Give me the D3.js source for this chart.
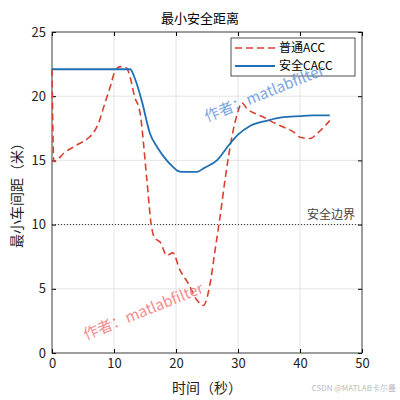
<!DOCTYPE html><html><head><meta charset="utf-8"><script src="https://cdn.jsdelivr.net/npm/d3@7"></script>
<style>body{margin:0;background:#fff}text{font-family:"Noto Sans CJK SC","Noto Sans",sans-serif}</style></head><body>
<svg id="c" width="400" height="400"></svg>
<script>
const accT=[0,0.3,2,4,6,6.6,7.5,8.5,9.5,10.2,11,12,12.6,13.3,14.2,15.3,16,16.5,17.5,18.5,19.5,20.6,22,23.4,24.4,25.5,26.3,27.1,28,29,30,30.6,31.5,33,34,35.5,37.3,39,40,41.6,43,44.8];
const accV=[22.1,14.9,15.6,16.2,16.8,17.1,17.9,19.4,20.9,22.0,22.3,22.2,21.5,20.0,18.7,13.5,10.0,9.0,8.6,7.6,7.8,6.5,5.4,4.1,3.7,5.4,8.0,10.6,13.8,16.8,18.8,19.5,19.0,18.6,18.4,18.0,17.6,17.2,16.8,16.7,17.2,18.1];
const caccT=[0,5,10,12,12.6,13.5,14.5,15.8,17,18.5,19.5,20.2,21,22,23.4,24.5,26.6,28.7,30,32,34.7,37,40,42,44.8];
const caccV=[22.1,22.1,22.1,22.1,22.1,21.2,19.6,17.1,16.0,15.0,14.5,14.2,14.1,14.1,14.1,14.4,15.0,16.3,17.0,17.7,18.1,18.35,18.45,18.5,18.5];
const xTicks=[0,10,20,30,40,50], yTicks=[0,5,10,15,20,25];
const svg=d3.select("#c");
const L=52,R=362,T=32,B=353;
const x=d3.scaleLinear().domain([0,50]).range([L,R]);
const y=d3.scaleLinear().domain([0,25]).range([B,T]);
const g=svg.append("g");
xTicks.forEach(t=>g.append("line").attr("x1",x(t)).attr("x2",x(t)).attr("y1",T).attr("y2",B).attr("stroke","#ddd").attr("stroke-width",0.8));
yTicks.forEach(t=>g.append("line").attr("y1",y(t)).attr("y2",y(t)).attr("x1",L).attr("x2",R).attr("stroke","#ddd").attr("stroke-width",0.8));
svg.append("g").attr("transform",`translate(0,${B})`).call(d3.axisBottom(x).tickValues(xTicks).tickSize(-4).tickPadding(6)).call(a=>{a.select(".domain").remove();a.selectAll("text").attr("font-size",13).attr("fill","#222")});
svg.append("g").attr("transform",`translate(${L},0)`).call(d3.axisLeft(y).tickValues(yTicks).tickSize(-4).tickPadding(6)).call(a=>{a.select(".domain").remove();a.selectAll("text").attr("font-size",13).attr("fill","#222")});
svg.append("g").attr("transform",`translate(${R},0)`).call(d3.axisRight(y).tickValues(yTicks).tickSize(-4).tickFormat("")).call(a=>a.select(".domain").remove());
svg.append("g").attr("transform",`translate(0,${T})`).call(d3.axisTop(x).tickValues(xTicks).tickSize(-4).tickFormat("")).call(a=>a.select(".domain").remove());
svg.append("rect").attr("x",L).attr("y",T).attr("width",R-L).attr("height",B-T).attr("fill","none").attr("stroke","#222").attr("stroke-width",0.8);
svg.append("line").attr("x1",L).attr("x2",R).attr("y1",y(10)).attr("y2",y(10)).attr("stroke","#333").attr("stroke-dasharray","1,2");
svg.append("text").attr("x",355).attr("y",y(10)-6).attr("text-anchor","end").attr("font-size",12).attr("fill","#444").text("安全边界");
const line=d3.line().x(d=>x(d[0])).y(d=>y(d[1])).curve(d3.curveMonotoneX);
svg.append("path").datum(accT.map((t,i)=>[t,accV[i]])).attr("d",line).attr("fill","none").attr("stroke","#d9402f").attr("stroke-width",1.6).attr("stroke-dasharray","7,4");
svg.append("path").datum(caccT.map((t,i)=>[t,caccV[i]])).attr("d",line).attr("fill","none").attr("stroke","#1f6fb4").attr("stroke-width",1.8);
const lg=svg.append("g");
lg.append("rect").attr("x",231).attr("y",38).attr("width",124).attr("height",38).attr("fill","#fff").attr("stroke","#222").attr("stroke-width",0.8);
lg.append("line").attr("x1",235).attr("x2",275).attr("y1",48).attr("y2",48).attr("stroke","#d9402f").attr("stroke-width",1.6).attr("stroke-dasharray","7,4");
lg.append("line").attr("x1",235).attr("x2",275).attr("y1",66).attr("y2",66).attr("stroke","#1f6fb4").attr("stroke-width",1.8);
lg.append("text").attr("x",279).attr("y",52).attr("font-size",12).text("普通ACC");
lg.append("text").attr("x",279).attr("y",70).attr("font-size",12).text("安全CACC");
svg.append("text").attr("x",200).attr("y",23).attr("text-anchor","middle").attr("font-size",13).text("最小安全距离");
svg.append("text").attr("x",207).attr("y",393).attr("text-anchor","middle").attr("font-size",14).attr("fill","#222").text("时间（秒）");
svg.append("text").attr("transform","translate(22,192) rotate(-90)").attr("text-anchor","middle").attr("font-size",14).attr("fill","#222").text("最小车间距（米）");
svg.append("text").attr("transform","translate(86,340) rotate(-22)").attr("font-size",15).attr("fill","#f07070").attr("opacity",0.8).text("作者：matlabfilter");
svg.append("text").attr("transform","translate(207,122) rotate(-22)").attr("font-size",15).attr("fill","#5b8fd8").attr("opacity",0.8).text("作者：matlabfilter");
svg.append("text").attr("x",396).attr("y",391).attr("text-anchor","end").attr("font-size",8).attr("fill","#bbb").text("CSDN @MATLAB卡尔曼");
</script></body></html>
